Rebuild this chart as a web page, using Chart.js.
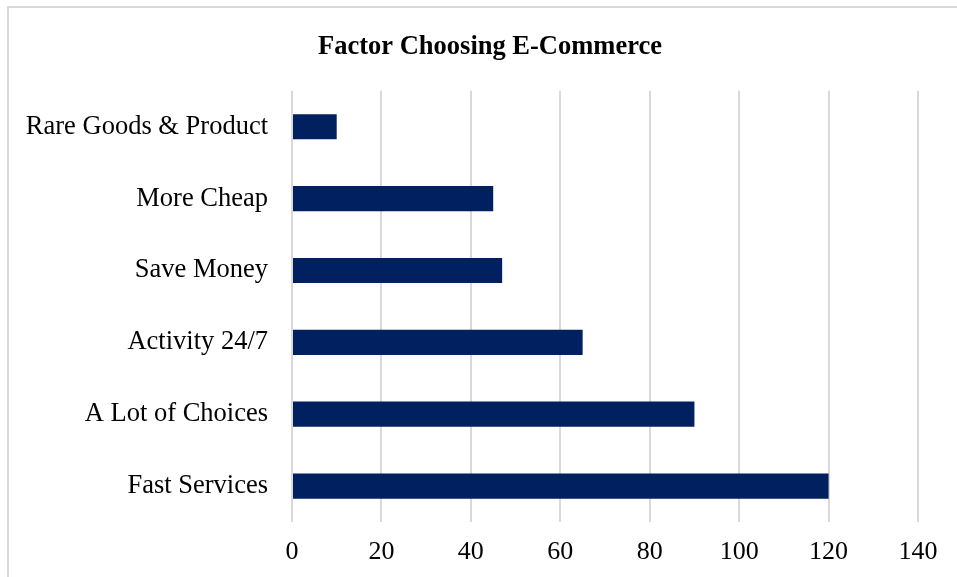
<!DOCTYPE html>
<html>
<head>
<meta charset="utf-8">
<script src="https://cdn.jsdelivr.net/npm/chart.js@4.4.0/dist/chart.umd.min.js"></script>
<style>
  html, body { margin: 0; padding: 0; background: #fff; overflow: hidden; }
  #wrap { position: relative; width: 957px; height: 577px; overflow: hidden; }
  #frame {
    position: absolute; left: 7px; top: 6px; width: 1000px; height: 620px;
    border-left: 2px solid #d9d9d9; border-top: 2px solid #d9d9d9;
  }
  #chart { position: absolute; left: 0; top: 0; }
</style>
</head>
<body>
<div id="wrap">
  <div id="frame"></div>
  <!-- canvas runs a little past the window, like the frame in the reference -->
  <canvas id="chart" width="980" height="577"></canvas>
</div>
<script>
// Data
const categories = ['Rare Goods & Product', 'More Cheap', 'Save Money', 'Activity 24/7', 'A Lot of Choices', 'Fast Services'];
const counts = [10, 45, 47, 65, 90, 120];
const xTicks = [0, 20, 40, 60, 80, 100, 120, 140];

const serif = "'Liberation Serif', 'Times New Roman', serif";

new Chart(document.getElementById('chart').getContext('2d'), {
  type: 'bar',
  data: {
    labels: categories,
    datasets: [{
      data: counts,
      backgroundColor: '#002060',
      barPercentage: 0.35,
      categoryPercentage: 1.0
    }]
  },
  options: {
    indexAxis: 'y',
    responsive: false,
    animation: false,
    layout: { padding: { top: 0, right: 0, bottom: 8, left: 0 } },
    plugins: {
      legend: { display: false },
      tooltip: { enabled: false },
      title: {
        display: true,
        text: 'Factor Choosing E-Commerce',
        color: '#000',
        font: { family: serif, size: 26.5, weight: 'bold', lineHeight: 1.2 },
        padding: { top: 31, bottom: 28 }
      }
    },
    scales: {
      x: {
        min: xTicks[0],
        max: xTicks[xTicks.length - 1],
        afterBuildTicks: (scale) => { scale.ticks = xTicks.map(v => ({ value: v })); },
        afterFit: (scale) => { scale.height = 47; },
        grid: { color: '#d9d9d9', lineWidth: 2, drawTicks: false },
        border: { display: false },
        ticks: {
          color: '#000',
          padding: 15,
          maxRotation: 0,
          font: { family: serif, size: 26 }
        }
      },
      y: {
        afterFit: (scale) => { scale.width = 292; },
        grid: { display: false, drawTicks: false },
        border: { display: false },
        ticks: {
          color: '#000',
          padding: 24,
          font: { family: serif, size: 26.5 }
        }
      },
      // empty right-hand band so the plot ends at 140 while the title stays centred on the frame
      yPad: {
        axis: 'y',
        type: 'linear',
        position: 'right',
        display: true,
        afterFit: (scale) => { scale.width = 62; },
        grid: { display: false, drawTicks: false },
        border: { display: false },
        ticks: { display: false }
      }
    }
  }
});
</script>
</body>
</html>
